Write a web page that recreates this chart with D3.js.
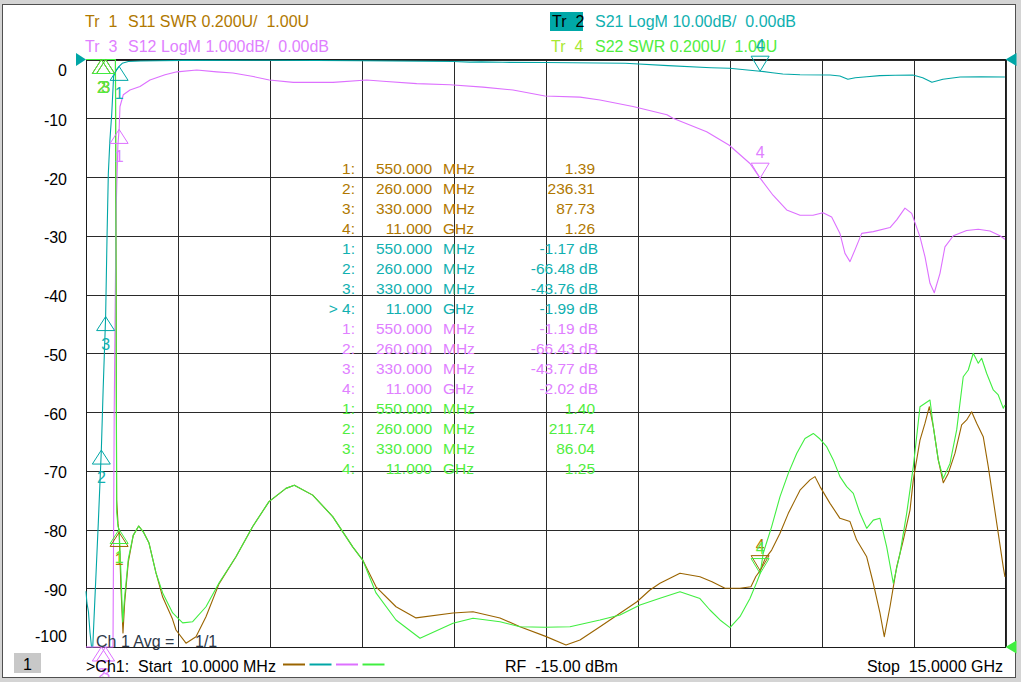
<!DOCTYPE html>
<html><head><meta charset="utf-8">
<script src="https://cdn.jsdelivr.net/npm/d3@7/dist/d3.min.js"></script>
<style>
html,body{margin:0;padding:0;background:#d4d4d4;}
svg{display:block;font-family:"Liberation Sans",Arial,sans-serif;}
text{white-space:pre;}
</style></head><body>
<svg id="c" width="1021" height="682"></svg>
<script>
// ---------- data ----------
const s11Freq = [0.01,0.26,0.33,0.45,0.49,0.51,0.532,0.55,0.58,0.613,0.64,0.70,0.78,0.869,0.95,1.037,1.151,1.26,1.42,1.477,1.64,1.803,1.966,2.178,2.455,2.728,2.993,3.270,3.406,3.706,4.032,4.358,4.521,4.738,5.064,5.390,5.993,6.319,6.759,7.085,7.493,7.835,8.063,8.389,8.715,8.992,9.204,9.367,9.693,10.019,10.215,10.427,10.671,10.85,10.93,11.0,11.08,11.188,11.324,11.459,11.568,11.650,11.813,11.894,11.976,12.139,12.301,12.465,12.574,12.737,12.845,12.954,13.024,13.117,13.226,13.334,13.443,13.497,13.606,13.688,13.758,13.823,13.904,13.986,14.067,14.176,14.285,14.367,14.448,14.530,14.637,14.719,14.801,14.882,14.963,14.991];
const s11Swr = [30,236.31,87.73,9,3.6,1.50,1.42,1.39,1.20,1.048,1.15,1.29,1.38,1.412,1.39,1.354,1.252,1.17,1.095,1.058,1.013,1.035,1.103,1.215,1.307,1.410,1.495,1.540,1.551,1.517,1.444,1.341,1.296,1.205,1.137,1.099,1.116,1.120,1.099,1.069,1.037,1.007,1.024,1.069,1.115,1.154,1.194,1.217,1.251,1.239,1.222,1.200,1.200,1.205,1.24,1.26,1.30,1.330,1.387,1.455,1.500,1.534,1.569,1.580,1.546,1.489,1.438,1.427,1.364,1.307,1.217,1.115,1.035,1.137,1.273,1.364,1.466,1.569,1.704,1.762,1.818,1.750,1.637,1.559,1.591,1.659,1.756,1.773,1.801,1.762,1.716,1.614,1.500,1.387,1.273,1.239];

const s21Freq = [0.01,0.025,0.05,0.075,0.10,0.12,0.15,0.18,0.21,0.24,0.26,0.29,0.33,0.352,0.374,0.40,0.43,0.46,0.50,0.55,0.60,0.70,0.90,1.2,1.6,3.0,4.5,6.0,6.27,6.45,6.8,7.5,8.8,9.5,10.2,10.5,11.0,11.2,11.37,11.65,12.14,12.3,12.43,12.55,12.74,12.95,13.2,13.49,13.65,13.80,13.98,14.26,14.6,14.99];
const s21Db = [-90.5,-92.5,-94,-97.5,-101.5,-101,-93,-86,-79,-71.5,-66.48,-56,-43.76,-30.7,-19.4,-13.7,-9.2,-2.9,-1.8,-1.17,-0.65,-0.35,-0.25,-0.2,-0.15,-0.12,-0.2,-0.35,-0.45,-0.4,-0.48,-0.5,-0.65,-1.05,-1.4,-1.5,-1.99,-2.25,-2.47,-2.6,-2.64,-2.8,-3.37,-3.1,-2.93,-2.75,-2.68,-2.64,-3.1,-3.88,-3.37,-2.98,-2.95,-2.98];

const s12Freq = [0.01,0.26,0.33,0.40,0.45,0.47,0.50,0.53,0.55,0.564,0.618,0.727,0.890,1.053,1.298,1.494,1.815,2.141,2.406,2.737,2.998,3.389,4.037,4.586,4.852,5.401,5.944,6.482,6.971,7.493,8.063,8.389,8.927,9.481,9.579,10.128,10.497,10.834,11.0,11.21,11.433,11.650,11.862,12.025,12.166,12.301,12.383,12.465,12.546,12.656,12.845,13.117,13.226,13.361,13.471,13.606,13.688,13.769,13.839,13.932,14.013,14.149,14.367,14.556,14.747,14.910,14.991];
const s12Db = [-60,-66.43,-43.77,-24,-10.5,-6,-2.6,-1.45,-1.19,-0.80,-0.60,-0.52,-0.46,-0.35,-0.26,-0.21,-0.18,-0.21,-0.23,-0.29,-0.35,-0.39,-0.39,-0.35,-0.37,-0.41,-0.43,-0.47,-0.52,-0.62,-0.64,-0.69,-0.80,-0.94,-1.00,-1.23,-1.46,-1.77,-2.02,-2.31,-2.56,-2.65,-2.65,-2.61,-2.68,-2.96,-3.30,-3.44,-3.24,-2.96,-2.93,-2.86,-2.73,-2.53,-2.62,-3.02,-3.36,-3.81,-3.97,-3.64,-3.19,-3.00,-2.91,-2.89,-2.92,-3.00,-3.06];

const s22Freq = [0.01,0.26,0.33,0.45,0.49,0.51,0.532,0.55,0.58,0.608,0.64,0.70,0.78,0.869,0.95,1.037,1.151,1.26,1.423,1.586,1.749,1.966,2.178,2.455,2.728,2.993,3.270,3.406,3.706,4.032,4.358,4.521,4.738,5.064,5.455,5.993,6.319,6.759,7.085,7.493,7.900,8.389,8.715,9.041,9.367,9.693,10.019,10.182,10.346,10.508,10.671,10.834,10.944,11.0,11.051,11.188,11.324,11.459,11.596,11.731,11.867,11.976,12.085,12.193,12.301,12.411,12.519,12.628,12.737,12.845,12.954,13.063,13.171,13.280,13.389,13.497,13.606,13.769,13.823,13.904,13.986,14.095,14.204,14.311,14.393,14.474,14.556,14.611,14.692,14.801,14.882,14.963,14.991];
const s22Swr = [25,211.74,86.04,8,3.5,1.46,1.41,1.40,1.25,1.085,1.17,1.30,1.38,1.412,1.39,1.354,1.252,1.184,1.116,1.082,1.086,1.137,1.218,1.307,1.410,1.495,1.540,1.551,1.517,1.444,1.341,1.296,1.184,1.092,1.030,1.081,1.098,1.086,1.069,1.067,1.069,1.092,1.109,1.143,1.166,1.188,1.165,1.126,1.092,1.066,1.103,1.165,1.22,1.25,1.32,1.410,1.512,1.591,1.659,1.710,1.727,1.708,1.682,1.637,1.580,1.546,1.523,1.455,1.404,1.432,1.438,1.341,1.217,1.319,1.455,1.614,1.818,1.841,1.750,1.637,1.574,1.625,1.739,1.920,1.943,2.000,1.966,1.983,1.932,1.875,1.858,1.813,1.824];

// markers
const markerFreq = [0.55, 0.26, 0.33, 11.0];
const markerStim = ["550.000", "260.000", "330.000", "11.000"];
const markerUnit = ["MHz", "MHz", "MHz", "GHz"];
const s11Mk = [1.39, 236.31, 87.73, 1.26];
const s21Mk = [-1.17, -66.48, -43.76, -1.99];
const s12Mk = [-1.19, -66.43, -43.77, -2.02];
const s22Mk = [1.40, 211.74, 86.04, 1.25];

// axis tick labels (active trace S21, 10 dB/div)
const yTicks = [0, -10, -20, -30, -40, -50, -60, -70, -80, -90, -100];

// ---------- layout ----------
const svg = d3.select("#c");
const L = 86, R = 1005.5, T = 59.5, B = 647;
const x = d3.scaleLinear().domain([0.01, 15]).range([L, R]);
const yS21 = d3.scaleLinear().domain([-100, 0]).range([B, T]).clamp(true);
const yS12 = d3.scaleLinear().domain([-10, 0]).range([B, T]).clamp(true);
const ySWR = d3.scaleLinear().domain([1, 3]).range([B, T]).clamp(true);
const fmt2 = v => v.toFixed(2);

const cBrown = "#9a6400", cBrownT = "#b07800";
const cTeal = "#00a6a6", cTealT = "#10b0b0";
const cMag = "#dd70ff", cMagT = "#e080ff";
const cGreen = "#40ee40", cGreenT = "#50ee40";

// frame
svg.append("rect").attr("x",0).attr("y",0).attr("width",1021).attr("height",682).attr("fill","#d4d4d4");
svg.append("rect").attr("x",2.5).attr("y",4.5).attr("width",1013).attr("height",673)
  .attr("fill","#ffffff").attr("stroke","#505050");
svg.append("clipPath").attr("id","frame").append("rect").attr("x",3).attr("y",5).attr("width",1012).attr("height",672);
const g = svg.append("g").attr("clip-path","url(#frame)");

// grid
const xGrid = d3.range(11).map(i => 0.01 + i * (14.99 / 10));
const gx = g.append("g").attr("transform", `translate(0,${B})`)
  .call(d3.axisBottom(x).tickValues(xGrid).tickSize(-(B - T)).tickFormat(""));
gx.select(".domain").remove();
gx.selectAll("line").attr("stroke","#2a2a2a").attr("shape-rendering","crispEdges");
const gy = g.append("g").attr("transform", `translate(${L},0)`)
  .call(d3.axisLeft(yS21).tickValues(yTicks).tickSize(-(R - L)).tickFormat(""));
gy.select(".domain").remove();
gy.selectAll("line").attr("stroke","#2a2a2a").attr("shape-rendering","crispEdges");
g.append("rect").attr("x",L).attr("y",T).attr("width",R-L).attr("height",B-T)
  .attr("fill","none").attr("stroke","#1a1a1a").attr("shape-rendering","crispEdges");

// y labels
const ya = g.append("g").attr("transform", `translate(${L},0)`)
  .call(d3.axisLeft(yS21).tickValues(yTicks).tickSize(0).tickPadding(19).tickFormat(d => String(d)));
ya.select(".domain").remove();
ya.selectAll("text").attr("font-size",16).attr("fill","#000")
  .attr("font-family","'Liberation Sans',Arial,sans-serif")
  .attr("dy", d => d === 0 ? 15.5 : (d === -100 ? -5.5 : 7));

// header
function txt(sel, s, px, py, col, opts = {}) {
  return sel.append("text").attr("x",px).attr("y",py).attr("fill",col)
    .attr("font-size", opts.size || 16).attr("text-anchor", opts.anchor || "start").text(s);
}
txt(g, "Tr  1", 85, 26.5, cBrownT);
txt(g, "S11 SWR 0.200U/  1.00U", 128, 26.5, cBrownT);
txt(g, "Tr  3", 85, 52, cMagT);
txt(g, "S12 LogM 1.000dB/  0.00dB", 128, 52, cMagT);
g.append("rect").attr("x",550).attr("y",12).attr("width",33).attr("height",19).attr("fill","#00a8a8");
txt(g, "Tr  2", 552, 26.5, "#000");
txt(g, "S21 LogM 10.00dB/  0.00dB", 595, 26.5, cTealT);
txt(g, "Tr  4", 551, 52, "#a8e830");
txt(g, "S22 SWR 0.200U/  1.00U", 595, 52, cGreenT);

// traces
const traces = [
  {f: s11Freq, v: s11Swr, y: ySWR, c: cBrown, ct: cBrownT, mk: s11Mk, swr: true},
  {f: s21Freq, v: s21Db, y: yS21, c: cTeal, ct: cTealT, mk: s21Mk, swr: false},
  {f: s12Freq, v: s12Db, y: yS12, c: cMag, ct: cMagT, mk: s12Mk, swr: false},
  {f: s22Freq, v: s22Swr, y: ySWR, c: cGreen, ct: cGreenT, mk: s22Mk, swr: true}
];

// marker table
const tbl = g.append("g");
traces.forEach((t, ti) => {
  t.mk.forEach((val, i) => {
    const yy = 174 + (ti * 4 + i) * 20;
    const lab = (ti === 1 && i === 3) ? "> 4:" : (i + 1) + ":";
    txt(tbl, lab, 355, yy, t.ct, {anchor: "end", size: 15.5});
    txt(tbl, markerStim[i], 432, yy, t.ct, {anchor: "end", size: 15.5});
    txt(tbl, markerUnit[i], 443, yy, t.ct, {size: 15.5});
    if (t.swr) txt(tbl, fmt2(val), 595, yy, t.ct, {anchor: "end", size: 15.5});
    else txt(tbl, fmt2(val) + " dB", 598, yy, t.ct, {anchor: "end", size: 15.5});
  });
});

traces.forEach(t => {
  const line = d3.line().x(d => x(d[0])).y(d => t.y(d[1]));
  g.append("path").datum(d3.zip(t.f, t.v)).attr("d", line)
    .attr("fill","none").attr("stroke", t.c).attr("stroke-width", 1.1)
    .attr("stroke-linejoin","round");
});

// markers: active marker 4 drawn as ▽ above, others Δ below
traces.forEach(t => {
  t.mk.forEach((val, i) => {
    const mx = x(markerFreq[i]), my = t.y(val);
    const active = (i === 3);
    const h = active ? -15 : 14;
    g.append("path")
      .attr("d", `M${mx},${my}L${mx - 9},${my + h}L${mx + 9},${my + h}Z`)
      .attr("fill","none").attr("stroke", t.c).attr("stroke-width", 1);
    txt(g, String(i + 1), mx, active ? my - 20 : my + 33, t.ct, {anchor: "middle", size: 16});
  });
});

// reference position triangles
g.append("path").attr("d", `M${L},${T}L${L-10},${T-6.5}L${L-10},${T+6.5}Z`).attr("fill", cTeal);
svg.append("path").attr("d", `M${R},${T}L${R+11},${T-6.5}L${R+11},${T+6.5}Z`).attr("fill", cTeal);
svg.append("path").attr("d", `M${R},${B}L${R+11},${B-6.5}L${R+11},${B+6.5}Z`).attr("fill", cGreen);

// averaging label
txt(g, "Ch 1 Avg =", 96, 646.5, "#2e3a4a");
txt(g, "1/1", 195, 646.5, "#2e3a4a");

// status bar
g.append("rect").attr("x",14).attr("y",653).attr("width",27).attr("height",20).attr("fill","#c8c8c8");
txt(g, "1", 27.5, 670, "#000", {anchor: "middle"});
txt(g, ">Ch1:  Start  10.0000 MHz", 86, 671.5, "#000");
traces.forEach((t, i) => {
  g.append("line").attr("x1", 283 + i * 26.5).attr("x2", 305 + i * 26.5)
    .attr("y1", 664.5).attr("y2", 664.5).attr("stroke", t.c).attr("stroke-width", 2);
});
txt(g, "RF  -15.00 dBm", 505, 671.5, "#000");
txt(g, "Stop  15.0000 GHz", 1003, 671.5, "#000", {anchor: "end"});
</script>
</body></html>
